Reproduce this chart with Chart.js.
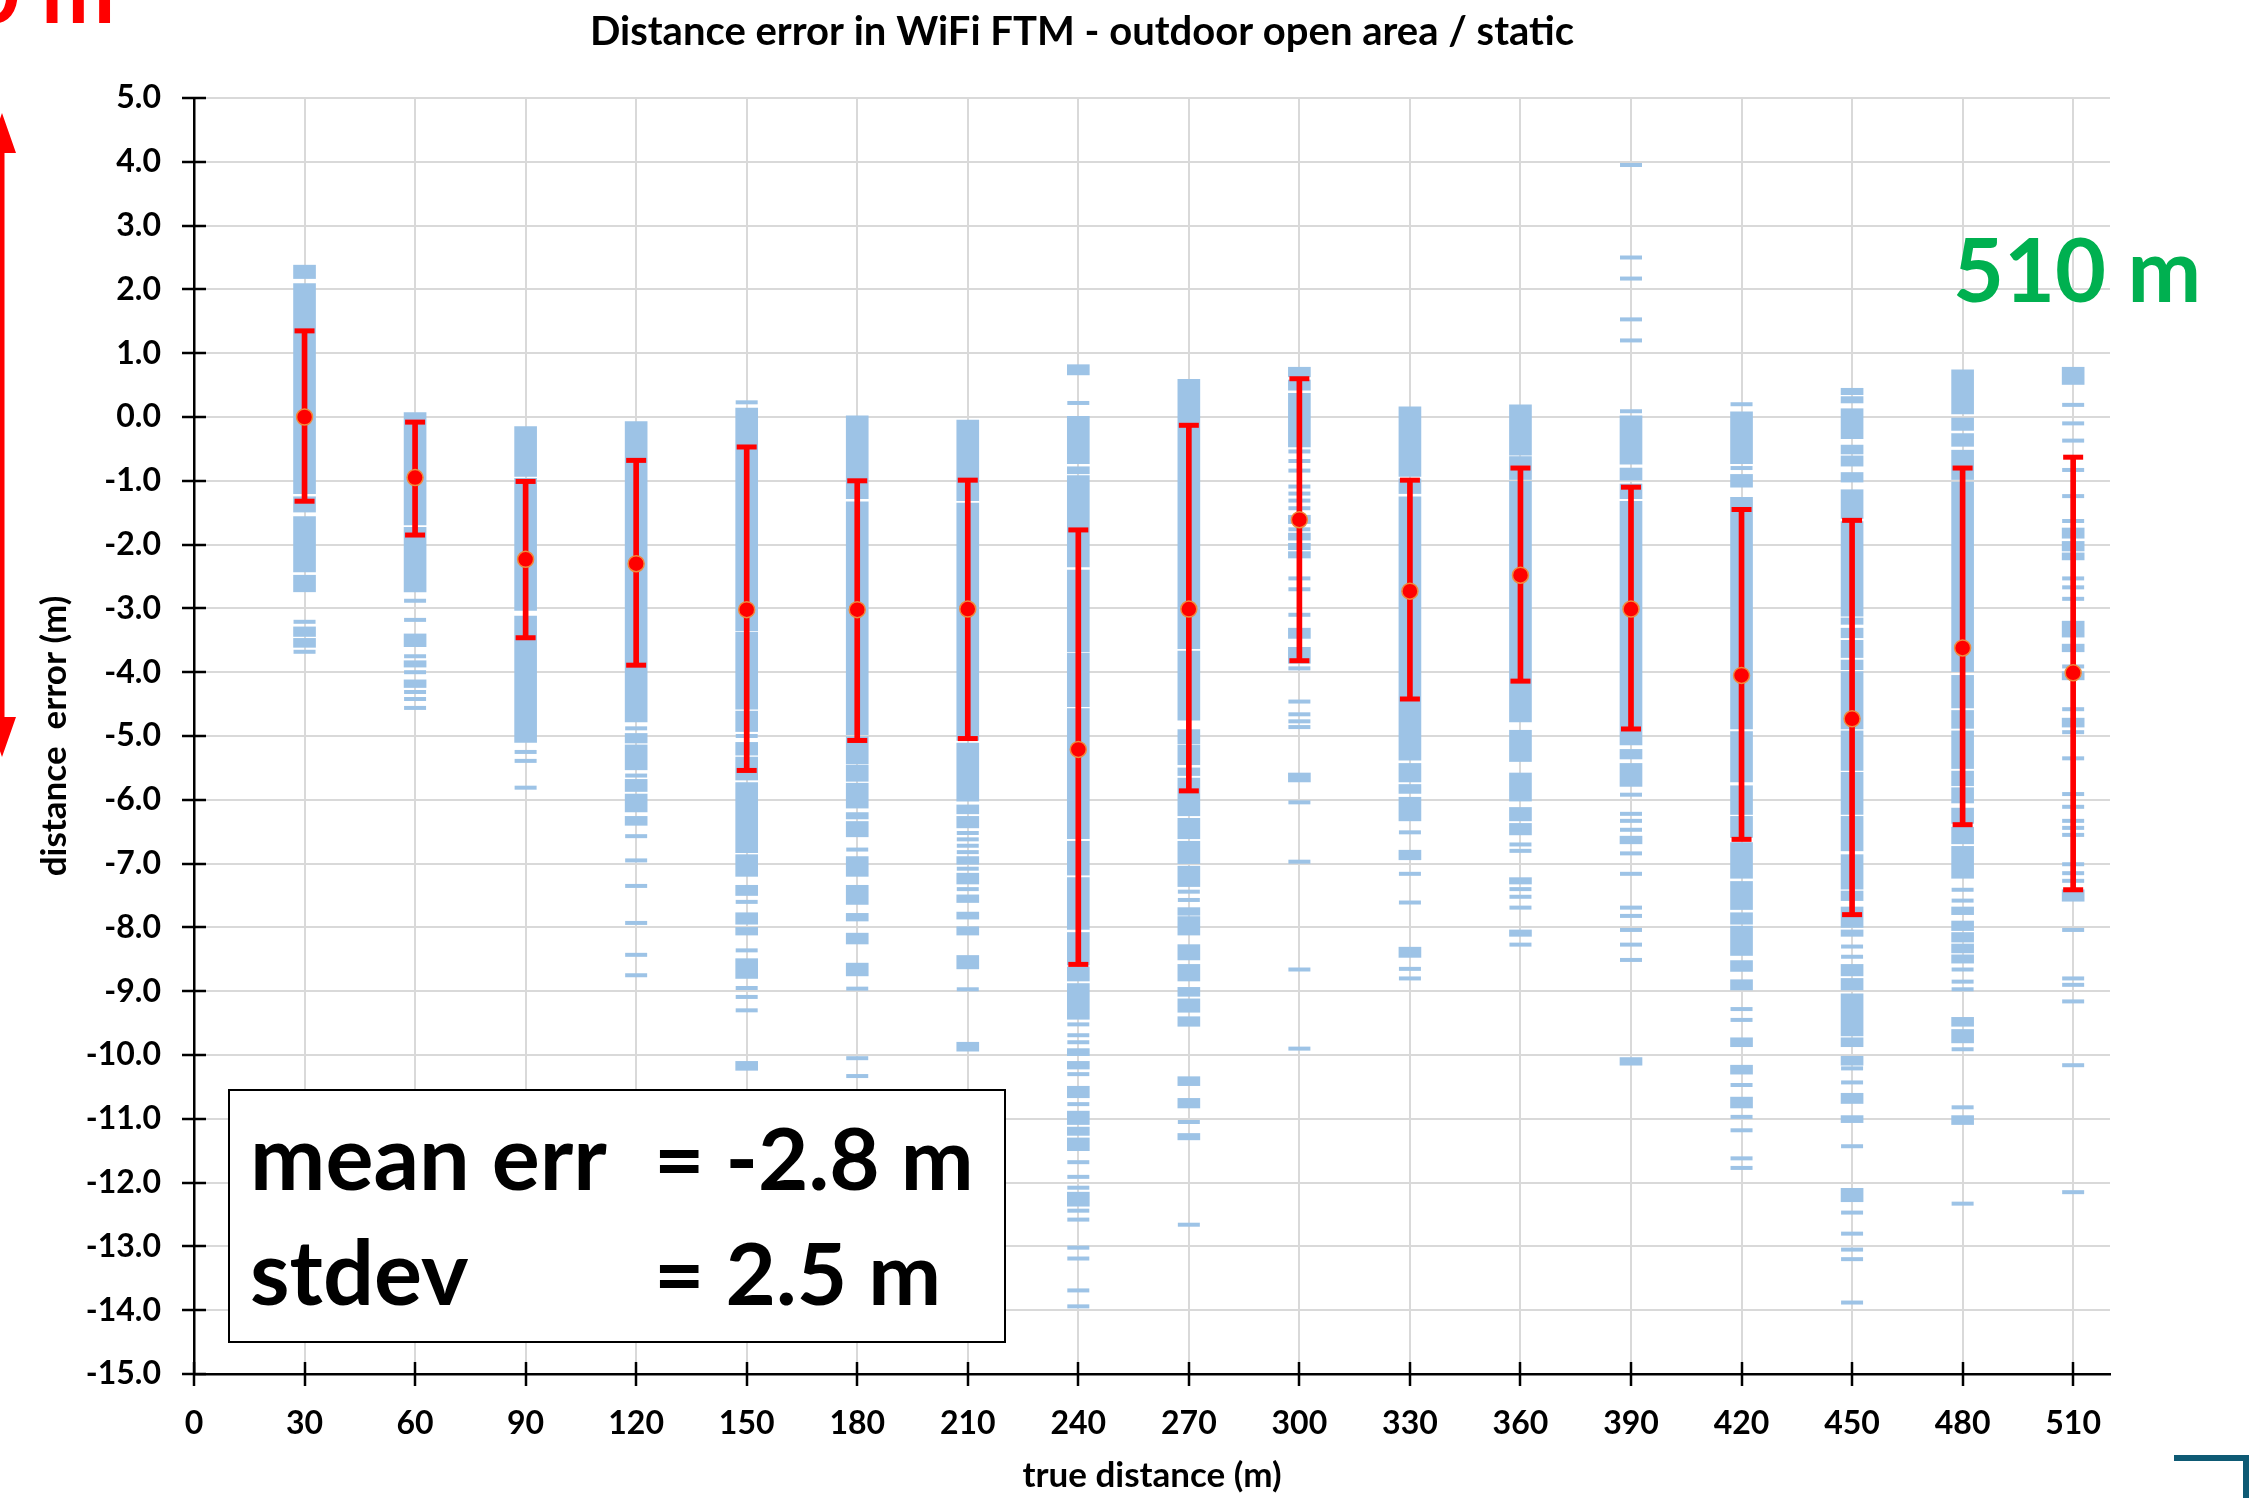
<!DOCTYPE html>
<html>
<head>
<meta charset="utf-8">
<title>Distance error in WiFi FTM</title>
<script src="https://cdn.jsdelivr.net/npm/chart.js@4.4.1/dist/chart.umd.min.js"></script>
<style>
  html, body { margin: 0; padding: 0; background: #fff; }
  #wrap { position: relative; width: 2258px; height: 1498px; }
</style>
</head>
<body>
<div id="wrap"><canvas id="ftmChart"></canvas></div>
<script>
// true distance of each measurement spot (m)
const distances = [30, 60, 90, 120, 150, 180, 210, 240, 270, 300, 330, 360, 390, 420, 450, 480, 510];

// mean error and the ends of the red error bars (m)
const meanError = [0.0, -0.95, -2.23, -2.30, -3.02, -3.02, -3.01, -5.21, -3.01, -1.61, -2.73, -2.48, -3.01, -4.05, -4.73, -3.62, -4.01];
const errorHigh = [1.35, -0.08, -1.01, -0.68, -0.47, -1.00, -0.99, -1.77, -0.13, 0.60, -0.99, -0.80, -1.10, -1.45, -1.62, -0.80, -0.63];
const errorLow = [-1.32, -1.85, -3.46, -3.89, -5.54, -5.07, -5.04, -8.58, -5.86, -3.82, -4.42, -4.14, -4.89, -6.62, -7.80, -6.39, -7.41];

// stretches where the single readings pile up into a solid column: [top, bottom]
const readingRuns = [
  [[2.38, 2.17], [2.09, -1.20], [-1.25, -1.49], [-1.56, -2.43], [-2.48, -2.74], [-3.29, -3.44], [-3.47, -3.61]],
  [[0.07, -1.69], [-1.73, -2.74], [-3.40, -3.60], [-3.82, -3.92], [-4.12, -4.24]],
  [[-0.15, -0.93], [-0.96, -3.03], [-3.12, -5.10]],
  [[-0.07, -4.78], [-4.96, -5.11], [-5.14, -5.53], [-5.68, -5.87], [-5.91, -6.19], [-6.26, -6.40]],
  [[0.14, -3.35], [-3.37, -4.58], [-4.61, -4.93], [-5.10, -5.30], [-5.33, -5.69], [-5.73, -6.83], [-6.86, -7.20], [-7.34, -7.50], [-7.77, -7.95], [-8.00, -8.12], [-8.49, -8.80], [-10.10, -10.24]],
  [[0.02, -1.28], [-1.33, -4.98], [-5.01, -5.44], [-5.46, -5.71], [-5.74, -6.13], [-6.20, -6.30], [-6.34, -6.58], [-6.89, -7.20], [-7.34, -7.64], [-7.78, -7.90], [-8.09, -8.26], [-8.56, -8.76]],
  [[-0.05, -1.31], [-1.35, -5.07], [-5.11, -6.02], [-6.08, -6.22], [-6.26, -6.44], [-6.89, -7.01], [-7.15, -7.32], [-7.49, -7.61], [-7.76, -7.87], [-7.99, -8.12], [-8.44, -8.65], [-9.80, -9.94]],
  [[0.82, 0.66], [0.01, -0.73], [-0.78, -0.89], [-0.92, -2.35], [-2.40, -3.68], [-3.70, -4.54], [-4.57, -6.61], [-6.65, -7.18], [-7.22, -8.03], [-8.08, -8.59], [-8.62, -8.84], [-8.88, -9.44], [-9.90, -10.01], [-10.10, -10.22], [-10.49, -10.67], [-10.88, -11.09], [-11.13, -11.26], [-11.30, -11.50], [-12.15, -12.37]],
  [[0.59, -3.63], [-3.67, -4.75], [-4.90, -5.12], [-5.14, -5.45], [-5.50, -5.62], [-5.66, -6.25], [-6.29, -6.61], [-6.65, -7.00], [-7.04, -7.36], [-7.69, -7.81], [-7.83, -8.12], [-8.27, -8.51], [-8.58, -8.84], [-8.94, -9.08], [-9.12, -9.33], [-9.40, -9.55], [-10.34, -10.48], [-10.68, -10.83], [-11.23, -11.33]],
  [[0.78, 0.63], [0.58, 0.42], [0.37, -0.47], [-1.54, -1.67], [-1.82, -1.93], [-1.98, -2.08], [-2.11, -2.21], [-3.31, -3.47], [-3.61, -3.86], [-5.58, -5.72]],
  [[0.16, -0.93], [-0.97, -1.20], [-1.25, -5.38], [-5.43, -5.72], [-5.76, -5.90], [-5.96, -6.33], [-6.79, -6.94], [-8.31, -8.47]],
  [[0.19, -0.60], [-0.62, -0.98], [-1.01, -4.78], [-4.91, -5.40], [-5.58, -6.02], [-6.12, -6.33], [-6.37, -6.55], [-7.22, -7.32], [-8.04, -8.14]],
  [[0.02, -0.74], [-0.80, -0.99], [-1.05, -1.28], [-1.32, -5.14], [-5.21, -5.36], [-5.43, -5.79], [-6.57, -6.69], [-10.04, -10.16]],
  [[0.08, -0.73], [-0.90, -1.10], [-1.26, -4.89], [-4.93, -5.72], [-5.78, -6.23], [-6.26, -6.59], [-6.67, -7.23], [-7.28, -7.72], [-7.77, -7.95], [-7.98, -8.44], [-8.52, -8.69], [-8.82, -8.98], [-9.73, -9.87], [-10.16, -10.30], [-10.66, -10.83]],
  [[0.45, 0.35], [0.32, 0.22], [0.13, -0.34], [-0.44, -0.58], [-0.61, -0.77], [-0.87, -1.02], [-1.14, -1.59], [-1.64, -3.12], [-3.15, -3.25], [-3.31, -3.46], [-3.50, -3.77], [-3.81, -3.96], [-3.99, -4.89], [-4.92, -5.54], [-5.57, -6.23], [-6.26, -6.80], [-6.86, -7.40], [-7.43, -7.58], [-7.68, -8.00], [-8.04, -8.14], [-8.58, -8.76], [-8.80, -8.98], [-9.04, -9.70], [-9.73, -9.87], [-10.02, -10.16], [-10.60, -10.76], [-10.95, -11.06], [-12.09, -12.30]],
  [[0.74, 0.05], [0.00, -0.21], [-0.26, -0.46], [-0.52, -0.98], [-1.02, -3.99], [-4.05, -4.56], [-4.60, -4.88], [-4.92, -5.51], [-5.55, -5.78], [-5.81, -6.05], [-6.13, -6.37], [-6.43, -6.69], [-6.73, -7.23], [-7.68, -7.80], [-7.90, -8.05], [-8.08, -8.23], [-8.26, -8.40], [-8.43, -8.56], [-9.41, -9.55], [-9.60, -9.81], [-10.95, -11.09]],
  [[0.78, 0.51], [-1.74, -1.90], [-1.95, -2.10], [-2.13, -2.24], [-3.20, -3.45], [-3.56, -3.68], [-3.99, -4.12], [-4.72, -4.86], [-7.41, -7.59]]
];

// readings that stand on their own as a single dash
const readingDashes = [
  [-3.21, -3.68],
  [-2.88, -3.18, -3.75, -4.00, -4.31, -4.42, -4.56],
  [-5.25, -5.39, -5.81],
  [-4.88, -5.62, -6.57, -6.95, -7.35, -7.93, -8.43, -8.75],
  [0.23, -5.00, -7.60, -8.36, -8.95, -9.09, -9.30],
  [-6.78, -8.96, -10.05, -10.33],
  [-6.52, -6.62, -6.72, -6.82, -7.08, -7.40, -8.97],
  [0.22, -9.52, -9.69, -9.80, -10.30, -10.77, -11.68, -11.91, -12.08, -12.44, -12.58, -13.02, -13.19, -13.69, -13.94],
  [-7.44, -7.57, -11.05, -12.66],
  [-0.54, -0.69, -0.84, -1.09, -1.20, -1.31, -1.43, -1.76, -2.53, -2.70, -3.10, -3.94, -4.46, -4.66, -4.77, -4.86, -6.04, -6.97, -8.66, -9.90],
  [-6.51, -7.16, -7.61, -8.65, -8.80],
  [-6.70, -6.80, -7.40, -7.52, -7.69, -8.27],
  [3.95, 2.50, 2.17, 1.53, 1.20, 0.09, -5.92, -6.22, -6.33, -6.47, -6.84, -7.16, -7.69, -7.82, -8.04, -8.27, -8.51],
  [0.20, -0.80, -9.28, -9.45, -10.47, -10.97, -11.18, -11.62, -11.77],
  [-8.30, -8.46, -10.21, -10.43, -11.43, -12.47, -12.80, -13.05, -13.20, -13.88],
  [-7.41, -7.58, -8.66, -8.85, -8.97, -9.91, -10.82, -12.33],
  [0.19, -0.10, -0.37, -0.83, -1.24, -1.63, -2.53, -2.67, -2.85, -3.91, -4.58, -4.94, -5.35, -5.91, -6.11, -6.33, -6.44, -6.55, -7.01, -7.15, -7.27, -8.04, -8.80, -8.90, -9.16, -10.16, -12.15]
];

const xTickValues = [0, 30, 60, 90, 120, 150, 180, 210, 240, 270, 300, 330, 360, 390, 420, 450, 480, 510];
const yTickValues = [5, 4, 3, 2, 1, 0, -1, -2, -3, -4, -5, -6, -7, -8, -9, -10, -11, -12, -13, -14, -15];

const chartTitle = 'Distance error in WiFi FTM - outdoor open area / static';

const blue = '#9DC3E6';
const red = '#FF0000';

// build the point lists for chart.js
const runData = [];
const dashData = [];
distances.forEach((d, i) => {
  readingRuns[i].forEach(r => runData.push({ x: d, y: [r[1], r[0]] }));
  readingDashes[i].forEach(v => dashData.push({ x: d, y: v }));
});
const errLineData = distances.map((d, i) => ({ x: d, y: [errorLow[i], errorHigh[i]] }));
const capData = [];
distances.forEach((d, i) => {
  capData.push({ x: d, y: errorHigh[i] });
  capData.push({ x: d, y: errorLow[i] });
});
const meanData = distances.map((d, i) => ({ x: d, y: meanError[i] }));

// tick marks that cross the axis lines, like the spreadsheet original
const crossTicks = {
  id: 'crossTicks',
  afterDraw(chart) {
    const { ctx, chartArea, scales } = chart;
    ctx.save();
    ctx.strokeStyle = '#000';
    ctx.lineWidth = 2.5;
    ctx.beginPath();
    scales.x.ticks.forEach(t => {
      const px = Math.round(scales.x.getPixelForValue(t.value));
      ctx.moveTo(px, chartArea.bottom - 12);
      ctx.lineTo(px, chartArea.bottom + 12);
    });
    scales.y.ticks.forEach(t => {
      const py = Math.round(scales.y.getPixelForValue(t.value));
      ctx.moveTo(chartArea.left - 12, py);
      ctx.lineTo(chartArea.left + 12, py);
    });
    ctx.stroke();
    ctx.restore();
  }
};

// slide notes around the chart: title, stats box, range labels, arrow, corner mark
const slideNotes = {
  id: 'slideNotes',
  afterDatasetsDraw(chart) {
    const ctx = chart.ctx;
    ctx.save();

    // title (centred over the slide, not just the plot)
    ctx.fillStyle = '#000';
    ctx.font = 'bold 40px Lato';
    ctx.textAlign = 'center';
    ctx.textBaseline = 'middle';
    ctx.fillText(chartTitle, 1082, 32);

    // stats box
    ctx.fillStyle = '#fff';
    ctx.fillRect(229, 1090, 776, 252);
    ctx.strokeStyle = '#000';
    ctx.lineWidth = 2;
    ctx.strokeRect(229, 1090, 776, 252);
    ctx.fillStyle = '#000';
    ctx.textBaseline = 'alphabetic';
    ctx.textAlign = 'left';
    ctx.font = 'bold 90px Lato';
    ctx.fillText('mean err', 250, 1190);
    ctx.fillText('stdev', 250, 1305);
    ctx.font = 'bold 87px Lato';
    ctx.fillText('= -2.8 m', 654, 1190);
    ctx.fillText('= 2.5 m', 654, 1305);

    // range labels
    ctx.font = 'bold 88px Lato';
    ctx.fillStyle = '#00B050';
    ctx.fillText('510 m', 1953, 302);
    ctx.fillStyle = red;
    ctx.textAlign = 'right';
    ctx.fillText('30 m', 115, 23);

    // red double arrow on the left edge
    ctx.strokeStyle = red;
    ctx.lineWidth = 5;
    ctx.beginPath();
    ctx.moveTo(2, 150);
    ctx.lineTo(2, 720);
    ctx.stroke();
    ctx.beginPath();
    ctx.moveTo(2, 113);
    ctx.lineTo(-12, 153);
    ctx.lineTo(16, 153);
    ctx.closePath();
    ctx.moveTo(2, 757);
    ctx.lineTo(-12, 717);
    ctx.lineTo(16, 717);
    ctx.closePath();
    ctx.fill();

    // corner mark bottom right
    ctx.strokeStyle = '#0E5A74';
    ctx.lineWidth = 6;
    ctx.beginPath();
    ctx.moveTo(2174, 1458);
    ctx.lineTo(2246, 1458);
    ctx.lineTo(2246, 1500);
    ctx.stroke();

    ctx.restore();
  }
};

Chart.defaults.font.family = 'Lato, "Open Sans", sans-serif';
Chart.defaults.font.weight = 'bold';
Chart.defaults.color = '#000';

new Chart(document.getElementById('ftmChart'), {
  type: 'scatter',
  data: {
    datasets: [
      {
        label: 'mean',
        data: meanData,
        pointStyle: 'circle',
        pointRadius: 8,
        backgroundColor: red,
        borderColor: '#F08A3C',
        borderWidth: 1.5,
        order: 0
      },
      {
        label: 'stdev caps',
        data: capData,
        pointStyle: 'line',
        pointRadius: 10,
        borderColor: red,
        borderWidth: 5,
        order: 1
      },
      {
        type: 'bar',
        label: 'stdev',
        data: errLineData,
        backgroundColor: red,
        barThickness: 5,
        maxBarThickness: 5,
        grouped: false,
        order: 2
      },
      {
        label: 'readings',
        data: dashData,
        pointStyle: 'line',
        pointRadius: 11,
        borderColor: blue,
        borderWidth: 4,
        order: 3
      },
      {
        type: 'bar',
        label: 'dense readings',
        data: runData,
        backgroundColor: blue,
        barThickness: 22,
        maxBarThickness: 22,
        grouped: false,
        order: 4
      }
    ]
  },
  options: {
    responsive: true,
    maintainAspectRatio: false,
    animation: false,
    events: [],
    layout: { padding: { left: 0, right: 148, top: 98, bottom: 0 } },
    scales: {
      x: {
        type: 'linear',
        min: 0,
        max: 520,
        offset: false,
        afterBuildTicks: scale => { scale.ticks = xTickValues.map(v => ({ value: v })); },
        afterFit: scale => { scale.height = 124; },
        ticks: {
          autoSkip: false,
          maxRotation: 0,
          padding: 30,
          font: { size: 32, weight: 'bold' },
          color: '#000'
        },
        grid: { color: '#D9D9D9', lineWidth: 2, drawTicks: false, offset: false },
        border: { color: '#000', width: 2.5 },
        title: {
          display: true,
          text: 'true distance (m)',
          font: { size: 35, weight: 'bold' },
          color: '#000',
          padding: { top: 0, bottom: 1 }
        }
      },
      y: {
        type: 'linear',
        min: -15,
        max: 5,
        afterBuildTicks: scale => { scale.ticks = yTickValues.map(v => ({ value: v })); },
        afterFit: scale => { scale.width = 194; },
        ticks: {
          autoSkip: false,
          padding: 33,
          font: { size: 32, weight: 'bold' },
          color: '#000',
          callback: v => Number(v).toFixed(1)
        },
        grid: { color: '#D9D9D9', lineWidth: 2, drawTicks: false },
        border: { color: '#000', width: 2.5 },
        title: {
          display: true,
          text: 'distance  error (m)',
          font: { size: 35, weight: 'bold' },
          color: '#000',
          padding: { top: 34, bottom: 0 }
        }
      }
    },
    plugins: {
      legend: { display: false },
      tooltip: { enabled: false },
      title: { display: false }
    }
  },
  plugins: [crossTicks, slideNotes]
});
</script>
</body>
</html>
